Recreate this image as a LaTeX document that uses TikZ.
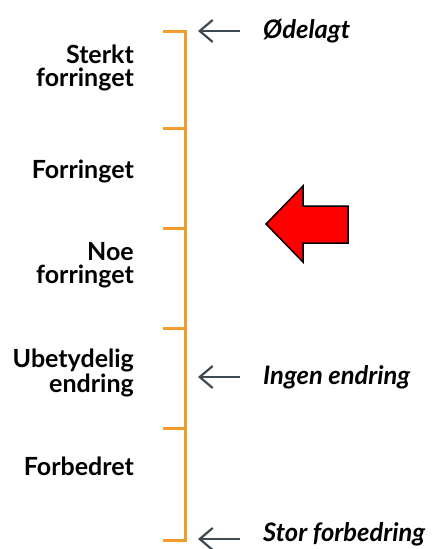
\documentclass[tikz,border=0pt]{standalone}
\usepackage{fontspec}
\setmainfont{Lato}
\usetikzlibrary{arrows.meta}
\definecolor{scaleorange}{HTML}{F39C2B}
\definecolor{pointergray}{HTML}{3D4A52}

\begin{document}
\begin{tikzpicture}[x=1pt, y=-1pt,
    level/.style={font=\fontsize{25}{23}\selectfont\bfseries, align=right, anchor=east, inner sep=0pt},
    state/.style={font=\fontsize{25.5}{23}\selectfont\bfseries\itshape, anchor=west, inner sep=0pt},
    pointer/.style={draw=pointergray, line width=2.2pt, -{Straight Barb[length=13pt, width=22pt, line width=2.2pt]}},
    tick/.style={draw=scaleorange, line width=3pt}]
    \useasboundingbox (0,0) rectangle (433,549);

    % the scale
    \draw[tick] (163,31) -- (185,31) coordinate (top) -- (185,540) coordinate (bottom) -- (163,540);
    \foreach \y in {128,228,328,428}
        \draw[tick] (163,\y) -- (185,\y);

    % levels
    \node[level] (sterkt) at (134,68) {Sterkt\\forringet};
    \node[level] (forringet) at (134,171) {Forringet};
    \node[level] (noe) at (134,265) {Noe\\forringet};
    \node[level] (ubetydelig) at (134,373) {Ubetydelig\\endring};
    \node[level] (forbedret) at (134,466) {Forbedret};

    % states
    \node[state] (odelagt) at (263,31) {Ødelagt};
    \node[state] (ingen) at (263,377) {Ingen endring};
    \node[state] (stor) at (263,534) {Stor forbedring};
    \coordinate (p_1) at (198,31);
    \coordinate (p_2) at (198,377);
    \coordinate (p_3) at (198,539);
    \draw[pointer] ([xshift=-23pt]odelagt.west) -- (p_1);
    \draw[pointer] ([xshift=-23pt]ingen.west) -- (p_2);
    \draw[pointer] ([xshift=-23pt,yshift=-5pt]stor.west) -- (p_3);

    % red marker
    \draw[fill=red, line width=1.5pt, line join=miter]
        (266,224) -- (303,186) -- (303,206) -- (348,206) -- (348,243) -- (303,243) -- (303,262) -- cycle;
\end{tikzpicture}
\end{document}
